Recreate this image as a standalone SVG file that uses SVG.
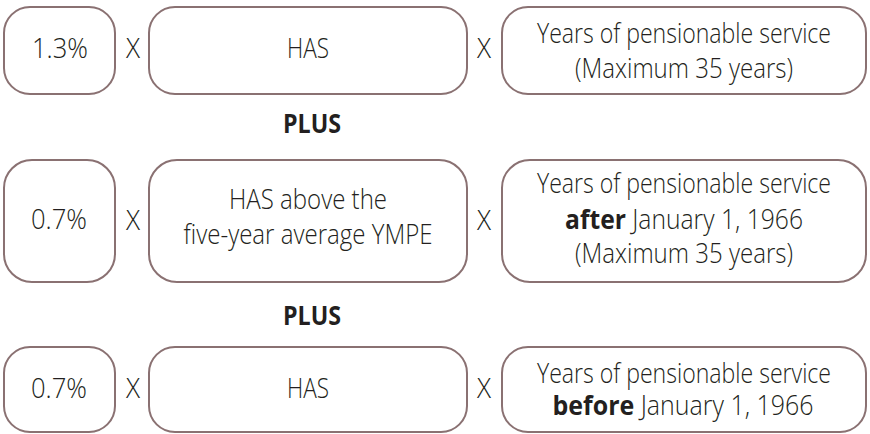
<svg xmlns="http://www.w3.org/2000/svg" width="870" height="434" viewBox="0 0 870 434">
<style>
.box{fill:#fff;stroke:#8a7172;stroke-width:2}
text{font-family:"Open Sans","Noto Sans","Liberation Sans",sans-serif;font-size:27px;font-weight:300;fill:#231f20;text-anchor:middle}
.b{font-weight:bold}
</style>
<rect width="870" height="434" fill="#fff"/>
<g id="row1">
<g id="r1-rate"><rect class="box" x="4" y="7" width="111" height="87" rx="26"/><text x="60" y="58" textLength="56" lengthAdjust="spacingAndGlyphs">1.3%</text></g>
<g id="r1-x1"><text x="133" y="58" textLength="14" lengthAdjust="spacingAndGlyphs">X</text></g>
<g id="r1-has"><rect class="box" x="149" y="7" width="318" height="87" rx="26"/><text x="308" y="58" textLength="42" lengthAdjust="spacingAndGlyphs">HAS</text></g>
<g id="r1-x2"><text x="484" y="58" textLength="14" lengthAdjust="spacingAndGlyphs">X</text></g>
<g id="r1-years"><rect class="box" x="502" y="7" width="364" height="87" rx="26"/><text x="684" y="43" textLength="294" lengthAdjust="spacingAndGlyphs">Years of pensionable service</text><text x="684" y="78" textLength="218" lengthAdjust="spacingAndGlyphs">(Maximum 35 years)</text></g>
</g>
<g id="plus1"><text class="b" x="312" y="133" textLength="58" lengthAdjust="spacingAndGlyphs">PLUS</text></g>
<g id="row2">
<g id="r2-rate"><rect class="box" x="4" y="160" width="111" height="122" rx="28"/><text x="59" y="229" textLength="56" lengthAdjust="spacingAndGlyphs">0.7%</text></g>
<g id="r2-x1"><text x="133" y="230" textLength="14" lengthAdjust="spacingAndGlyphs">X</text></g>
<g id="r2-has"><rect class="box" x="149" y="160" width="318" height="122" rx="28"/><text x="308" y="209" textLength="158" lengthAdjust="spacingAndGlyphs">HAS above the</text><text x="308" y="244" textLength="249" lengthAdjust="spacingAndGlyphs">five-year average YMPE</text></g>
<g id="r2-x2"><text x="484" y="230" textLength="14" lengthAdjust="spacingAndGlyphs">X</text></g>
<g id="r2-years"><rect class="box" x="502" y="160" width="364" height="122" rx="28"/><text x="684" y="193" textLength="294" lengthAdjust="spacingAndGlyphs">Years of pensionable service</text><text x="684" y="229" textLength="238" lengthAdjust="spacingAndGlyphs"><tspan class="b">after</tspan> January 1, 1966</text><text x="684" y="263" textLength="218" lengthAdjust="spacingAndGlyphs">(Maximum 35 years)</text></g>
</g>
<g id="plus2"><text class="b" x="312" y="325" textLength="58" lengthAdjust="spacingAndGlyphs">PLUS</text></g>
<g id="row3">
<g id="r3-rate"><rect class="box" x="4" y="347" width="111" height="85" rx="26"/><text x="59" y="398" textLength="56" lengthAdjust="spacingAndGlyphs">0.7%</text></g>
<g id="r3-x1"><text x="133" y="398" textLength="14" lengthAdjust="spacingAndGlyphs">X</text></g>
<g id="r3-has"><rect class="box" x="149" y="347" width="318" height="85" rx="26"/><text x="308" y="398" textLength="42" lengthAdjust="spacingAndGlyphs">HAS</text></g>
<g id="r3-x2"><text x="484" y="398" textLength="14" lengthAdjust="spacingAndGlyphs">X</text></g>
<g id="r3-years"><rect class="box" x="502" y="347" width="364" height="85" rx="26"/><text x="684" y="383" textLength="294" lengthAdjust="spacingAndGlyphs">Years of pensionable service</text><text x="683" y="415" textLength="261" lengthAdjust="spacingAndGlyphs"><tspan class="b">before</tspan> January 1, 1966</text></g>
</g>
<g id="connectors"></g>
</svg>
